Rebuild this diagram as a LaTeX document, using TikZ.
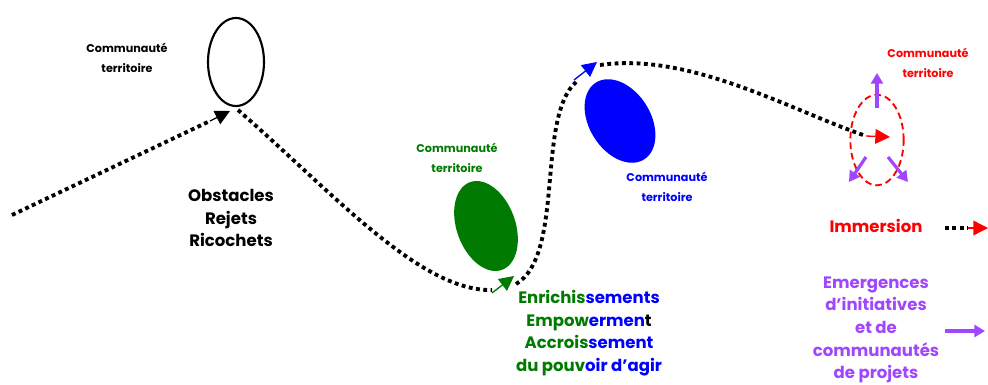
\documentclass[tikz,border=0pt]{standalone}
\usepackage{fontspec}
\setmainfont{Poppins}
\usetikzlibrary{arrows.meta,shapes.geometric}
\definecolor{cgreen}{RGB}{0,122,0}
\definecolor{cblue}{RGB}{0,0,255}
\definecolor{cred}{RGB}{255,0,0}
\definecolor{cpurple}{RGB}{160,70,255}
\tikzset{
  dotpath/.style={line width=2.9pt, dash pattern=on 2.9pt off 2.6pt},
  headtip/.style={-{Triangle[length=11pt,width=11pt]}, line width=1pt},
  lbl/.style={font=\bfseries\fontsize{8.4}{14.5}\selectfont, align=center},
  big/.style={font=\bfseries\fontsize{12.4}{17}\selectfont, align=center},
  oval/.style={ellipse, inner sep=0pt},
  parrow/.style={cpurple, line width=2.4pt, -{Triangle[length=8pt,width=9pt]}}
}
\begin{document}
\begin{tikzpicture}[x=0.75pt,y=-0.75pt]
\useasboundingbox (0,0) rectangle (988,385);

% ellipses
\node[oval, draw=black, line width=1.6pt, minimum width=42pt, minimum height=66pt] (e1) at (236,62) {};
\node[oval, fill=cgreen, minimum width=44pt, minimum height=70pt, rotate=20] (e2) at (486,226) {};
\node[oval, fill=cblue, minimum width=46pt, minimum height=68pt, rotate=32] (e3) at (620,121) {};
\node[oval, draw=cred, dashed, dash pattern=on 5pt off 3pt, line width=1.4pt, minimum width=40pt, minimum height=68pt] (e4) at (877,140) {};

% coordinates of the path
\coordinate (s0) at (12,215);
\coordinate (a1) at (210,121);
\coordinate (a1t) at (230,111);
\coordinate (b0) at (238,110);
\coordinate (b1) at (492,290);
\coordinate (g0) at (492,293);
\coordinate (g1) at (514,276);
\coordinate (c0) at (516,284);
\coordinate (c1) at (576,82);
\coordinate (bl0) at (574,80);
\coordinate (bl1) at (597,62);
\coordinate (d0) at (600,65);
\coordinate (d1) at (866,136);
\coordinate (r0) at (866,136);
\coordinate (r1) at (890,137);

% dotted path
\draw[dotpath] (s0) -- (a1);
\draw[dotpath] (b0) .. controls (330,190) and (420,292) .. (b1);
\draw[dotpath] (c0) .. controls (565,255) and (536,118) .. (c1);
\draw[dotpath] (d0) .. controls (690,52) and (790,110) .. (d1);

% arrowheads
\draw[black, headtip] (a1) -- (a1t);
\draw[cgreen, headtip] (g0) -- (g1);
\draw[cblue, headtip] (bl0) -- (bl1);
\draw[cred, headtip] (r0) -- (r1);

% purple arrows around red ellipse
\coordinate (pu0) at (877,108);
\coordinate (pu1) at (877,73);
\coordinate (pl0) at (866,157);
\coordinate (pl1) at (849,182);
\coordinate (pr0) at (888,157);
\coordinate (pr1) at (908,182);
\draw[parrow] (pu0) -- (pu1);
\draw[parrow] (pl0) -- (pl1);
\draw[parrow] (pr0) -- (pr1);

% labels
\node[lbl] (t1) at (127,58) {Communauté\\territoire};
\node[lbl, text=cgreen] (t2) at (457,158) {Communauté\\territoire};
\node[lbl, text=cblue] (t3) at (667,187) {Communauté\\territoire};
\node[lbl, text=cred] (t4) at (928,63) {Communauté\\territoire};

\node[big] (obs) at (231,218) {Obstacles\\Rejets\\Ricochets};
\node[big, text=cred] (imm) at (876,226) {Immersion};
\node[big] (enr) at (589,333) {\textcolor{cgreen}{Enrichis}\textcolor{cblue}{sements}\\
\textcolor{cgreen}{Empow}\textcolor{cblue}{ermen}t\\
\textcolor{cgreen}{Accrois}\textcolor{cblue}{sement}\\
\textcolor{cgreen}{du pouv}\textcolor{cblue}{oir d’agir}};
\node[big, text=cpurple] (em) at (876,330) {Emergences\\d’initiatives\\et de\\communautés\\de projets};

% legend
\coordinate (l0) at (945,228);
\coordinate (l1) at (968,228);
\coordinate (l2) at (988,228);
\draw[dotpath] (l0) -- (l1);
\draw[cred, headtip] (l1) -- (l2);
\coordinate (m0) at (945,331);
\coordinate (m1) at (985,331);
\draw[parrow] (m0) -- (m1);
\end{tikzpicture}
\end{document}
